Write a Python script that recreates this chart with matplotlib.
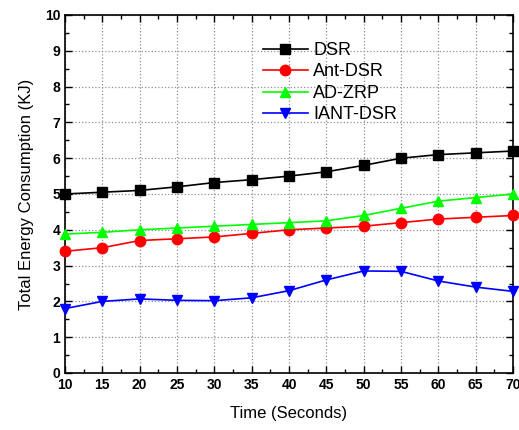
import numpy as np
import matplotlib.pyplot as plt
from matplotlib.ticker import MultipleLocator

plt.rcParams['font.family'] = ['Liberation Sans', 'DejaVu Sans']

# Datos
time = [10, 15, 20, 25, 30, 35, 40, 45, 50, 55, 60, 65, 70]
dsr = [5.0, 5.05, 5.1, 5.2, 5.32, 5.4, 5.5, 5.62, 5.8, 6.0, 6.1, 6.15, 6.2]
ant_dsr = [3.4, 3.5, 3.7, 3.75, 3.8, 3.9, 4.0, 4.05, 4.1, 4.2, 4.3, 4.35, 4.4]
ad_zrp = [3.88, 3.93, 4.0, 4.05, 4.1, 4.15, 4.2, 4.25, 4.4, 4.6, 4.8, 4.9, 5.0]
iant_dsr = [1.8, 2.0, 2.07, 2.03, 2.02, 2.1, 2.3, 2.6, 2.85, 2.84, 2.57, 2.4, 2.28]

fig = plt.figure(figsize=(5.19, 4.30), dpi=100)
ax = fig.add_axes([65/519, 57/430, 448/519, 358/430])

ax.plot(time, dsr, color='black', marker='s', markersize=6.5, lw=1.2, label='DSR', clip_on=False, zorder=3)
ax.plot(time, ant_dsr, color='red', marker='o', markersize=7.5, lw=1.2, label='Ant-DSR', clip_on=False, zorder=3)
ax.plot(time, ad_zrp, color='#00ff00', marker='^', markersize=7.5, lw=1.2, label='AD-ZRP', clip_on=False, zorder=3)
ax.plot(time, iant_dsr, color='blue', marker='v', markersize=7.5, lw=1.2, label='IANT-DSR', clip_on=False, zorder=3)

ax.set_xlim(10, 70)
ax.set_ylim(0, 10)
ax.xaxis.set_major_locator(MultipleLocator(5))
ax.xaxis.set_minor_locator(MultipleLocator(2.5))
ax.yaxis.set_major_locator(MultipleLocator(1))
ax.yaxis.set_minor_locator(MultipleLocator(0.5))
ax.tick_params(which='both', direction='in', top=True, right=True, width=1)
ax.tick_params(which='major', length=5, labelsize=10)
ax.tick_params(which='minor', length=3)
for lab in ax.get_xticklabels() + ax.get_yticklabels():
    lab.set_fontweight('bold')
for s in ax.spines.values():
    s.set_linewidth(1.2)

ax.grid(True, which='major', ls=':', color='#909090', lw=0.9)

ax.set_xlabel('Time (Seconds)', fontsize=12, labelpad=10)
ax.set_ylabel('Total Energy Consumption (KJ)', fontsize=12, labelpad=8)

ax.legend(loc='upper left', bbox_to_anchor=(0.425, 0.945), frameon=False, fontsize=13,
          handlelength=2.5, labelspacing=0.25, borderaxespad=0, handletextpad=0.3)

plt.savefig('out.png', dpi=100)
